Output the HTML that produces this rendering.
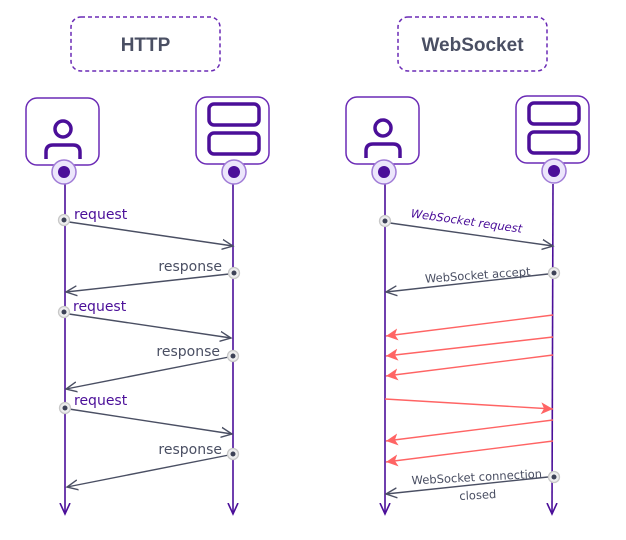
<!DOCTYPE html>
<html><head><meta charset="utf-8"><style>
html,body{margin:0;padding:0;background:#fff;}
svg{display:block;font-family:"DejaVu Sans","Liberation Sans",sans-serif;}
</style></head><body>
<svg width="626" height="540" viewBox="0 0 626 540" xmlns="http://www.w3.org/2000/svg">
<defs>
<marker id="oa" markerWidth="14" markerHeight="14" refX="11" refY="6" orient="auto" markerUnits="userSpaceOnUse"><path d="M0,1 L11,6 L0,11" fill="none" stroke="#4a4f63" stroke-width="1.4"/></marker>
<marker id="pa" markerWidth="14" markerHeight="14" refX="6" refY="11" orient="0" markerUnits="userSpaceOnUse"><path d="M1,0 L6,11 L11,0" fill="none" stroke="#4b0f99" stroke-width="1.6"/></marker>
<marker id="ra" markerWidth="14" markerHeight="14" refX="12" refY="6" orient="auto" markerUnits="userSpaceOnUse"><path d="M0,0 L12,6 L0,12 L3,6 Z" fill="#ff6464"/></marker>
<g id="dot"><circle r="5.5" fill="#eeeeee" stroke="#c8c8c8" stroke-width="1.3"/><circle r="2.5" fill="#3d4257"/></g>
</defs>
<rect x="71" y="17" width="149" height="54" rx="10" fill="none" stroke="#6a2ab5" stroke-width="1.5" stroke-dasharray="4,3"/>
<text x="145.5" y="51" text-anchor="middle" font-family="Liberation Sans, sans-serif" font-weight="bold" font-size="19" fill="#4a4f63">HTTP</text>
<rect x="398" y="17" width="149" height="54" rx="10" fill="none" stroke="#6a2ab5" stroke-width="1.5" stroke-dasharray="4,3"/>
<text x="472.5" y="51" text-anchor="middle" font-family="Liberation Sans, sans-serif" font-weight="bold" font-size="19" fill="#4a4f63">WebSocket</text>

<g stroke="#4b0f99" stroke-width="1.6" fill="none">
<line x1="65" y1="184" x2="65" y2="514" marker-end="url(#pa)"/>
<line x1="233" y1="184" x2="233" y2="514" marker-end="url(#pa)"/>
<line x1="385" y1="184" x2="385" y2="514" marker-end="url(#pa)"/>
<line x1="553" y1="184" x2="552" y2="514" marker-end="url(#pa)"/>
</g>

<g fill="#fff" stroke="#6a2ab5" stroke-width="1.5">
<rect x="26" y="98" width="73" height="67" rx="11"/>
<rect x="196" y="97" width="73" height="67" rx="11"/>
<rect x="346" y="97" width="73" height="67" rx="11"/>
<rect x="516" y="96" width="73" height="67" rx="11"/>
</g>
<g fill="none" stroke="#4b0f99" stroke-width="3.5">
<circle cx="63" cy="129" r="8"/>
<path d="M46,159 v-7 q0,-7 7,-7 h20 q7,0 7,7 v7"/>
<circle cx="383" cy="128" r="8"/>
<path d="M366,158 v-7 q0,-7 7,-7 h20 q7,0 7,7 v7"/>
</g>
<g fill="none" stroke="#4b0f99" stroke-width="3.5">
<rect x="209" y="104" width="50" height="21" rx="5"/>
<rect x="209" y="133" width="50" height="21" rx="5"/>
<rect x="529" y="103" width="50" height="21" rx="5"/>
<rect x="529" y="132" width="50" height="21" rx="5"/>
</g>
<g>
<circle cx="64" cy="172" r="12" fill="#ece6fb" stroke="#a07bd6" stroke-width="1.5"/><circle cx="64" cy="172" r="6" fill="#4b0f99"/>
<circle cx="234" cy="172" r="12" fill="#ece6fb" stroke="#a07bd6" stroke-width="1.5"/><circle cx="234" cy="172" r="6" fill="#4b0f99"/>
<circle cx="384" cy="172" r="12" fill="#ece6fb" stroke="#a07bd6" stroke-width="1.5"/><circle cx="384" cy="172" r="6" fill="#4b0f99"/>
<circle cx="554" cy="171" r="12" fill="#ece6fb" stroke="#a07bd6" stroke-width="1.5"/><circle cx="554" cy="171" r="6" fill="#4b0f99"/>
</g>

<g stroke="#4a4f63" stroke-width="1.4" fill="none" marker-end="url(#oa)">
<line x1="69" y1="222" x2="233" y2="246"/>
<line x1="229" y1="274" x2="66" y2="292"/>
<line x1="69" y1="314" x2="231" y2="338"/>
<line x1="229" y1="357" x2="66" y2="389"/>
<line x1="69" y1="409" x2="232" y2="434"/>
<line x1="229" y1="455" x2="67" y2="487"/>
</g>
<use href="#dot" x="64" y="220"/><use href="#dot" x="234" y="273"/>
<use href="#dot" x="64" y="312"/><use href="#dot" x="233" y="356"/>
<use href="#dot" x="65" y="408"/><use href="#dot" x="233" y="454"/>
<g font-size="14">
<text x="74" y="219" fill="#4b0f99">request</text>
<text x="222" y="271" text-anchor="end" fill="#4a4f63">response</text>
<text x="73" y="311" fill="#4b0f99">request</text>
<text x="220" y="356" text-anchor="end" fill="#4a4f63">response</text>
<text x="74" y="405" fill="#4b0f99">request</text>
<text x="222" y="454" text-anchor="end" fill="#4a4f63">response</text>
</g>

<g stroke="#4a4f63" stroke-width="1.4" fill="none" marker-end="url(#oa)">
<line x1="390" y1="223" x2="553" y2="246"/>
<line x1="548" y1="274" x2="386" y2="292"/>
<line x1="548" y1="477" x2="386" y2="494"/>
</g>
<g stroke="#ff6464" stroke-width="1.4" fill="none" marker-end="url(#ra)">
<line x1="553" y1="315" x2="386" y2="336"/>
<line x1="553" y1="337" x2="386" y2="356"/>
<line x1="553" y1="355" x2="386" y2="376"/>
<line x1="385" y1="399" x2="553" y2="409"/>
<line x1="553" y1="420" x2="386" y2="441"/>
<line x1="553" y1="441" x2="386" y2="462"/>
</g>
<use href="#dot" x="385" y="221"/><use href="#dot" x="554" y="273"/><use href="#dot" x="554" y="477"/>
<g font-size="11.5">
<text x="466" y="225" text-anchor="middle" fill="#4b0f99" font-style="italic" transform="rotate(8 466 225)">WebSocket request</text>
<text x="478" y="279" text-anchor="middle" fill="#4a4f63" transform="rotate(-4 478 279)">WebSocket accept</text>
<text x="477" y="481" text-anchor="middle" fill="#4a4f63" transform="rotate(-3 477 481)">WebSocket connection</text>
<text x="478" y="499" text-anchor="middle" fill="#4a4f63" transform="rotate(-3 478 499)">closed</text>
</g>
</svg>
</body></html>
